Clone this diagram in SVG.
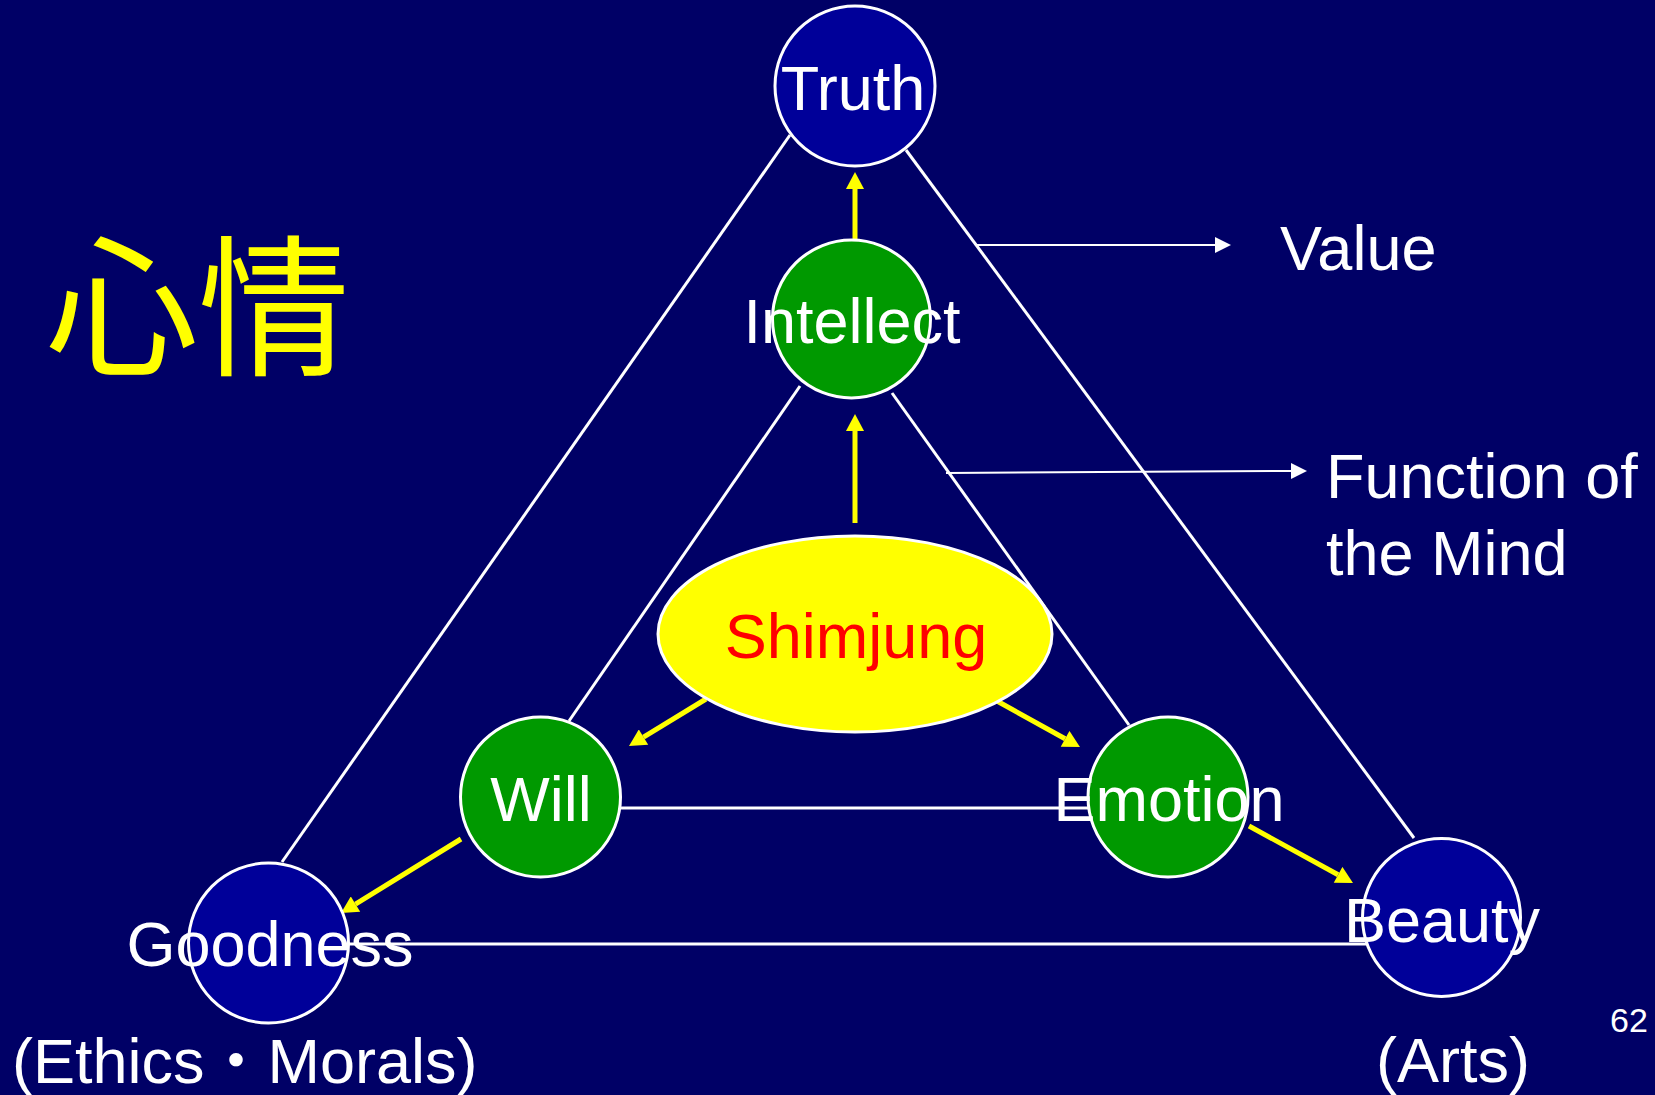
<svg xmlns="http://www.w3.org/2000/svg" width="1655" height="1095" viewBox="0 0 1655 1095">
<defs>
<style>
.lbl{font-family:"Liberation Sans",Arial,"Noto Sans CJK JP",sans-serif;font-size:63px;fill:#FFFFFF}
.mid{text-anchor:middle}
.wl{stroke:#FFFFFF;stroke-width:3;fill:none}
.thin{stroke:#FFFFFF;stroke-width:2;fill:none}
.ya{stroke:#FFFF00;stroke-width:5;fill:none}
.val{fill:#000099;stroke:#FFFFFF;stroke-width:3}
.fn{fill:#009900;stroke:#FFFFFF;stroke-width:3}
</style>
<marker id="yhead" markerUnits="userSpaceOnUse" markerWidth="18" markerHeight="18" viewBox="0 0 17 18" refX="0" refY="9" orient="auto">
<path d="M0,0 L17,9 L0,18 z" fill="#FFFF00"/>
</marker>
<marker id="whead" markerUnits="userSpaceOnUse" markerWidth="16" markerHeight="16" viewBox="0 0 16 16" refX="0" refY="8" orient="auto">
<path d="M0,0 L16,8 L0,16 z" fill="#FFFFFF"/>
</marker>
</defs>
<rect x="0" y="0" width="1655" height="1095" fill="#000066"/>
<g id="title">
<text x="46" y="364" style="font-family:'Noto Sans CJK JP','Noto Sans CJK SC',sans-serif;font-size:152px;fill:#FFFF00">心情</text>
</g>
<g id="connectors">
<line class="wl" x1="790" y1="135" x2="282" y2="862"/>
<line class="wl" x1="906" y1="150" x2="1414" y2="838"/>
<line class="wl" x1="347" y1="944" x2="1366" y2="944"/>
<line class="wl" x1="800" y1="386" x2="569" y2="721"/>
<line class="wl" x1="892" y1="393" x2="1129" y2="725"/>
<line class="wl" x1="620" y1="808" x2="1090" y2="808"/>
<line class="thin" x1="977" y1="245" x2="1215" y2="245" marker-end="url(#whead)"/>
<line class="thin" x1="946" y1="473" x2="1291" y2="471" marker-end="url(#whead)"/>
<line class="ya" x1="855" y1="239" x2="855" y2="189" marker-end="url(#yhead)"/>
<line class="ya" x1="855" y1="523" x2="855" y2="431" marker-end="url(#yhead)"/>
<line class="ya" x1="706" y1="699" x2="643.5" y2="737.1" marker-end="url(#yhead)"/>
<line class="ya" x1="997" y1="701" x2="1065.1" y2="738.8" marker-end="url(#yhead)"/>
<line class="ya" x1="461" y1="839" x2="355.5" y2="904.1" marker-end="url(#yhead)"/>
<line class="ya" x1="1249" y1="826" x2="1338.1" y2="874.8" marker-end="url(#yhead)"/>
</g>
<g id="truth">
<circle class="val" cx="855" cy="86" r="80"/>
<text class="lbl mid" x="853" y="110">Truth</text>
</g>
<g id="intellect">
<circle class="fn" cx="851.5" cy="319" r="79"/>
<text class="lbl mid" x="852" y="343">Intellect</text>
</g>
<g id="shimjung">
<ellipse cx="855" cy="634" rx="197" ry="98" fill="#FFFF00" stroke="#FFFFFF" stroke-width="3"/>
<text class="lbl mid" x="856" y="658" style="fill:#FF0000">Shimjung</text>
</g>
<g id="will">
<circle class="fn" cx="540.5" cy="797" r="80"/>
<text class="lbl mid" x="541" y="821">Will</text>
</g>
<g id="emotion">
<circle class="fn" cx="1168" cy="797" r="80"/>
<text class="lbl mid" x="1169" y="821">Emotion</text>
</g>
<g id="goodness">
<circle class="val" cx="268.5" cy="943" r="80"/>
<text class="lbl mid" x="270" y="966">Goodness</text>
<text class="lbl" x="12" y="1083">(Ethics・Morals)</text>
</g>
<g id="beauty">
<circle class="val" cx="1441.5" cy="917.5" r="79"/>
<text class="lbl mid" x="1442" y="942">Beauty</text>
<text class="lbl mid" x="1453" y="1082">(Arts)</text>
</g>
<g id="value">
<text class="lbl" x="1280" y="270">Value</text>
</g>
<g id="function">
<text class="lbl" x="1326" y="498">Function of</text>
<text class="lbl" x="1326" y="575">the Mind</text>
</g>
<g id="page">
<text class="lbl" x="1610" y="1032" style="font-size:34px">62</text>
</g>
</svg>
